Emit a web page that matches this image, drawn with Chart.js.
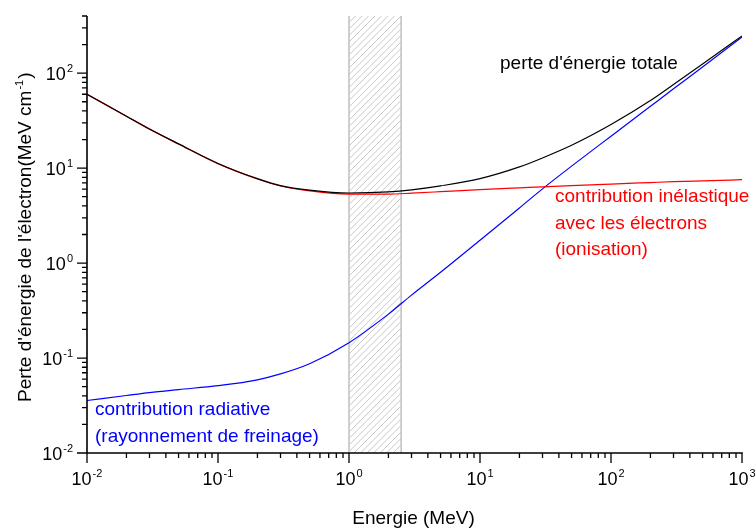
<!DOCTYPE html>
<html><head><meta charset="utf-8">
<script src="https://cdn.jsdelivr.net/npm/chart.js@4/dist/chart.umd.min.js"></script>
<style>html,body{margin:0;padding:0;background:#fff;overflow:hidden}#wrap{width:756px;height:531px;}</style>
</head><body><div id="wrap"><canvas id="c" width="756" height="531"></canvas></div>
<script>
// ---- data ----
const energies      = [0.01, 0.02, 0.03, 0.05, 0.1, 0.2, 0.3, 0.5, 1, 2, 3, 5, 10, 20, 30, 50, 100, 200, 300, 500, 1000];
const totalLoss     = [60, 35.2, 25.8, 18.0, 11.2, 7.74, 6.55, 5.86, 5.47, 5.62, 5.9, 6.5, 7.75, 10.3, 12.8, 17.4, 28.8, 51.5, 76, 125, 247];
const inelasticLoss = [59.96, 35.16, 25.76, 17.95, 11.15, 7.68, 6.48, 5.77, 5.33, 5.33, 5.45, 5.65, 5.95, 6.2, 6.35, 6.55, 6.8, 7.05, 7.2, 7.35, 7.55];
const radiativeLoss = [0.0357, 0.0403, 0.0432, 0.0465, 0.0512, 0.059, 0.068, 0.087, 0.145, 0.29, 0.46, 0.80, 1.74, 3.81, 6.05, 10.5, 21.7, 44.8, 68.4, 116, 240];
const xTickExponents = [-2, -1, 0, 1, 2, 3];
const yTickExponents = [-2, -1, 0, 1, 2];
const bandRange = [1, 2.5];
const xTitle = 'Energie (MeV)';
const yTitleMain = "Perte d'énergie de l'électron(MeV cm";
const yTitleSup = '-1';
const yTitleEnd = ')';
const labelTotal = ["perte d'énergie totale"];
const labelInelastic = ['contribution inélastique', 'avec les électrons', '(ionisation)'];
const labelRadiative = ['contribution radiative', '(rayonnement de freinage)'];

const FONT = '"Liberation Sans", Arial, sans-serif';
function pts(arr) { return energies.map((e, i) => ({ x: e, y: arr[i] })); }

function drawPow(ctx, exp, x, y, mode) {
  ctx.font = '18px ' + FONT;
  const w10 = ctx.measureText('10').width;
  ctx.font = '11px ' + FONT;
  const s = String(exp);
  const wE = ctx.measureText(s).width;
  const total = w10 + 1 + wE;
  let sx = mode === 'center' ? x - total / 2 : x - total;
  ctx.textAlign = 'left';
  ctx.textBaseline = 'alphabetic';
  ctx.font = '18px ' + FONT;
  ctx.fillText('10', sx, y);
  ctx.font = '11px ' + FONT;
  ctx.fillText(s, sx + w10 + 1, y - 8);
}

const customAxes = {
  id: 'customAxes',
  beforeDatasetsDraw(chart) {
    const { ctx, chartArea, scales } = chart;
    const x0 = scales.x.getPixelForValue(bandRange[0]);
    const x1 = scales.x.getPixelForValue(bandRange[1]);
    const top = chartArea.top, bot = chartArea.bottom;
    ctx.save();
    ctx.beginPath();
    ctx.rect(x0, top, x1 - x0, bot - top);
    ctx.clip();
    ctx.strokeStyle = '#c9c9c9';
    ctx.lineWidth = 1;
    const h = bot - top;
    for (let k = x0 - h; k < x1 + 10; k += 6.5) {
      ctx.beginPath();
      ctx.moveTo(k, bot);
      ctx.lineTo(k + h, top);
      ctx.stroke();
    }
    ctx.restore();
    ctx.save();
    ctx.strokeStyle = '#c4c4c4';
    ctx.lineWidth = 1.6;
    ctx.beginPath();
    ctx.moveTo(x0, top); ctx.lineTo(x0, bot);
    ctx.moveTo(x1, top); ctx.lineTo(x1, bot);
    ctx.stroke();
    ctx.restore();
  },
  afterDraw(chart) {
    const { ctx, chartArea, scales } = chart;
    const xs = scales.x, ys = scales.y;
    const L = chartArea.left, R = chartArea.right, T = chartArea.top, B = chartArea.bottom;
    ctx.save();
    ctx.strokeStyle = '#000';
    ctx.lineWidth = 1.6;
    ctx.beginPath();
    ctx.moveTo(L, T); ctx.lineTo(L, B); ctx.lineTo(R + 0.8, B);
    ctx.stroke();
    ctx.lineWidth = 1.3;
    ctx.beginPath();
    // y ticks
    for (const e of yTickExponents) {
      const base = Math.pow(10, e);
      const py = ys.getPixelForValue(base);
      ctx.moveTo(L, py); ctx.lineTo(L - 10, py);
      for (let m = 2; m <= 9; m++) {
        const v = m * base;
        if (v > ys.max + 1e-9) break;
        const p = ys.getPixelForValue(v);
        ctx.moveTo(L, p); ctx.lineTo(L - 5, p);
      }
    }
    // x ticks
    for (const e of xTickExponents) {
      const base = Math.pow(10, e);
      const px = xs.getPixelForValue(base);
      ctx.moveTo(px, B); ctx.lineTo(px, B + 10);
      if (base < xs.max) {
        for (let m = 2; m <= 9; m++) {
          const p = xs.getPixelForValue(m * base);
          ctx.moveTo(p, B); ctx.lineTo(p, B + 5);
        }
      }
    }
    ctx.stroke();

    ctx.fillStyle = '#000';
    for (const e of yTickExponents) {
      const py = ys.getPixelForValue(Math.pow(10, e));
      drawPow(ctx, e, 73, py + 6.5, 'right');
    }
    for (const e of xTickExponents) {
      const px = xs.getPixelForValue(Math.pow(10, e));
      drawPow(ctx, e, px, B + 32, 'center');
    }

    // axis titles
    ctx.font = '19px ' + FONT;
    ctx.textAlign = 'center';
    ctx.fillText(xTitle, 413.5, 524);

    ctx.save();
    ctx.translate(31, 402);
    ctx.rotate(-Math.PI / 2);
    ctx.textAlign = 'left';
    ctx.font = '19px ' + FONT;
    ctx.fillText(yTitleMain, 0, 0);
    let w = ctx.measureText(yTitleMain).width;
    ctx.font = '11px ' + FONT;
    ctx.fillText(yTitleSup, w + 1, -8);
    w += ctx.measureText(yTitleSup).width + 2;
    ctx.font = '19px ' + FONT;
    ctx.fillText(yTitleEnd, w, 0);
    ctx.restore();

    // curve annotations
    ctx.textAlign = 'left';
    ctx.font = '19px ' + FONT;
    ctx.fillStyle = '#000';
    ctx.fillText(labelTotal[0], 500, 68.5);
    ctx.fillStyle = '#ff0000';
    labelInelastic.forEach((t, i) => ctx.fillText(t, 555, 202 + i * 26.5));
    ctx.fillStyle = '#0000ff';
    labelRadiative.forEach((t, i) => ctx.fillText(t, 95, 415 + i * 27));
    ctx.restore();
  }
};

const common = { pointRadius: 0, borderWidth: 1.2, fill: false, cubicInterpolationMode: 'monotone' };
new Chart(document.getElementById('c'), {
  type: 'line',
  data: {
    datasets: [
      Object.assign({ label: "perte d'énergie totale", data: pts(totalLoss), borderColor: '#000000' }, common),
      Object.assign({ label: 'contribution inélastique', data: pts(inelasticLoss), borderColor: '#ff0000' }, common),
      Object.assign({ label: 'contribution radiative', data: pts(radiativeLoss), borderColor: '#0000ff' }, common)
    ]
  },
  options: {
    responsive: false,
    animation: false,
    devicePixelRatio: 1,
    layout: { padding: { left: 87, right: 14, top: 16, bottom: 78 } },
    plugins: { legend: { display: false }, tooltip: { enabled: false } },
    scales: {
      x: { type: 'logarithmic', min: 0.01, max: 1000, display: false },
      y: { type: 'logarithmic', min: 0.01, max: 400, display: false }
    }
  },
  plugins: [customAxes]
});
</script>
</body></html>
